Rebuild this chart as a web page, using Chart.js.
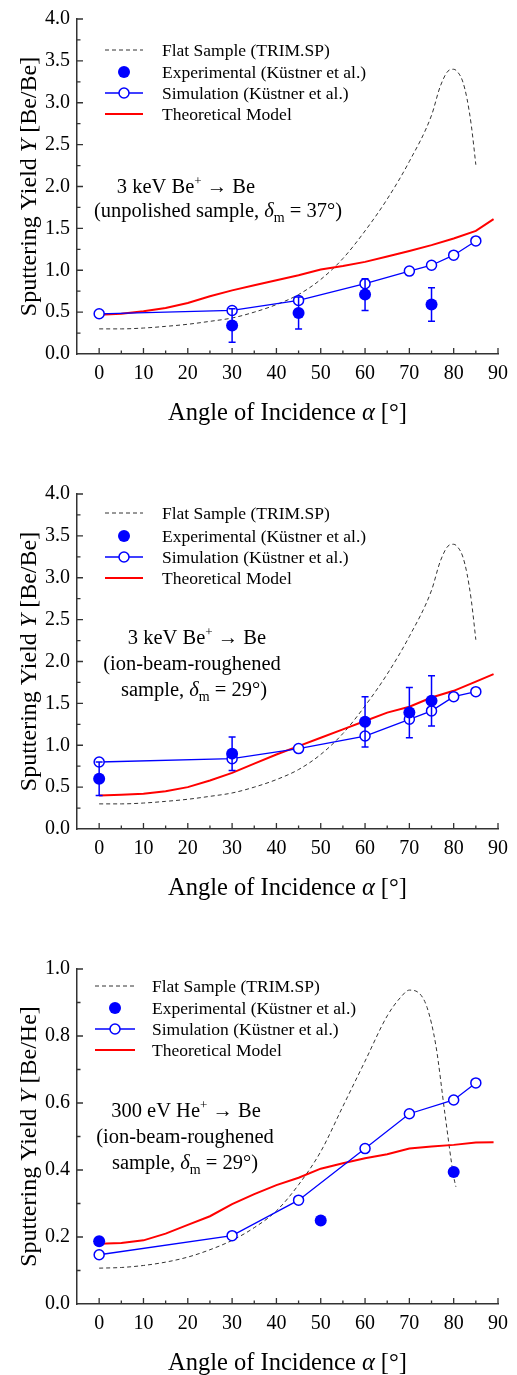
<!DOCTYPE html>
<html>
<head>
<meta charset="utf-8">
<script src="https://cdn.jsdelivr.net/npm/chart.js@4.4.1/dist/chart.umd.min.js"></script>
<style>
  body { margin: 0; background: #fff; width: 517px; height: 1375px; position: relative; overflow: hidden; }
  .panel { position: absolute; left: 0; width: 517px; height: 425px; }
</style>
</head>
<body>
<div class="panel" style="top:0px"><canvas id="chart1" width="517" height="425"></canvas></div>
<div class="panel" style="top:475px"><canvas id="chart2" width="517" height="425"></canvas></div>
<div class="panel" style="top:950px"><canvas id="chart3" width="517" height="425"></canvas></div>
<script>
// TRIM.SP flat sample, 3 keV Be -> Be (same curve in panels 1 and 2)
const flatAnglesBe = [0, 5, 10, 15, 20, 25, 30, 35, 40, 45, 50, 55, 60, 65, 70, 75, 77, 79, 80, 81, 82, 83, 84, 85];
const flatYieldBe = [0.30, 0.30, 0.31, 0.33, 0.355, 0.39, 0.43, 0.50, 0.59, 0.71, 0.89, 1.14, 1.47, 1.85, 2.30, 2.85, 3.20, 3.39, 3.40, 3.36, 3.26, 3.05, 2.72, 2.26];

const theoryAngles = [0, 5, 10, 15, 20, 25, 30, 35, 40, 45, 50, 55, 60, 65, 70, 75, 80, 85, 89];
const simAnglesBe = [0, 30, 45, 60, 70, 75, 80, 85];
const xTickValues = [0, 10, 20, 30, 40, 50, 60, 70, 80, 90];

// Panel 1: unpolished sample
const expAngles1 = [30, 45, 60, 75];
const expYield1 = [0.34, 0.49, 0.71, 0.59];
const expError1 = [0.20, 0.19, 0.19, 0.20];
const simYield1 = [0.48, 0.52, 0.64, 0.84, 0.99, 1.06, 1.18, 1.35];
const theoryYield1 = [0.47, 0.48, 0.51, 0.55, 0.61, 0.69, 0.76, 0.82, 0.88, 0.94, 1.01, 1.05, 1.10, 1.165, 1.23, 1.30, 1.38, 1.47, 1.61];

// Panel 2: ion-beam-roughened sample, Be+
const expAngles2 = [0, 30, 60, 70, 75];
const expYield2 = [0.60, 0.90, 1.28, 1.39, 1.53];
const expError2 = [0.20, 0.20, 0.30, 0.30, 0.30];
const simYield2 = [0.80, 0.84, 0.96, 1.11, 1.31, 1.41, 1.58, 1.64];
const theoryYield2 = [0.40, 0.41, 0.42, 0.45, 0.50, 0.58, 0.67, 0.78, 0.89, 0.99, 1.09, 1.19, 1.29, 1.39, 1.46, 1.57, 1.65, 1.76, 1.85];

// Panel 3: 300 eV He+
const flatAnglesHe = [0, 5, 10, 15, 20, 25, 30, 35, 40, 45, 50, 55, 60, 65, 68, 70, 72, 74, 76, 78, 80, 80.5];
const flatYieldHe = [0.107, 0.109, 0.115, 0.125, 0.14, 0.162, 0.19, 0.228, 0.278, 0.356, 0.455, 0.59, 0.725, 0.86, 0.915, 0.937, 0.93, 0.885, 0.77, 0.57, 0.38, 0.35];
const expAngles3 = [0, 50, 80];
const expYield3 = [0.187, 0.249, 0.394];
const simAngles3 = [0, 30, 45, 60, 70, 80, 85];
const simYield3 = [0.147, 0.204, 0.31, 0.464, 0.568, 0.609, 0.66];
const theoryYield3 = [0.18, 0.182, 0.19, 0.21, 0.236, 0.262, 0.298, 0.328, 0.355, 0.377, 0.404, 0.42, 0.435, 0.447, 0.464, 0.470, 0.475, 0.482, 0.483];

const legendLabels = ['Flat Sample (TRIM.SP)', 'Experimental (Küstner et al.)', 'Simulation (Küstner et al.)', 'Theoretical Model'];

const BLUE = '#0000ff';
const RED = '#ff0000';
const AXIS = '#333333';
const SERIF = '"Liberation Serif", "Times New Roman", serif';

function pts(xs, ys) {
  return xs.map((x, i) => ({ x: x, y: ys[i] }));
}

function fontOf(s, size) {
  return (s.it ? 'italic ' : '') + (s.size || size) + 'px ' + SERIF;
}

// draw text made of several pieces (italic, sub/superscript)
function drawRich(ctx, segs, x, y, align, size) {
  let w = 0;
  segs.forEach(s => { ctx.font = fontOf(s, size); w += ctx.measureText(s.t).width; });
  let cx = align === 'center' ? x - w / 2 : x;
  ctx.textAlign = 'left';
  ctx.textBaseline = 'alphabetic';
  segs.forEach(s => {
    ctx.font = fontOf(s, size);
    ctx.fillText(s.t, cx, y + (s.dy || 0));
    cx += ctx.measureText(s.t).width;
  });
}

const decorPlugin = {
  id: 'decor',
  afterDatasetsDraw(chart) {
    // error bars
    const ctx = chart.ctx;
    const yScale = chart.scales.y;
    chart.data.datasets.forEach((ds, i) => {
      if (!ds.errors) return;
      const meta = chart.getDatasetMeta(i);
      ctx.save();
      ctx.strokeStyle = BLUE;
      ctx.lineWidth = 1.5;
      meta.data.forEach((p, j) => {
        const e = ds.errors[j];
        const v = ds.data[j].y;
        const top = yScale.getPixelForValue(v + e);
        const bot = yScale.getPixelForValue(v - e);
        ctx.beginPath();
        ctx.moveTo(p.x, top); ctx.lineTo(p.x, bot);
        ctx.moveTo(p.x - 3.5, top); ctx.lineTo(p.x + 3.5, top);
        ctx.moveTo(p.x - 3.5, bot); ctx.lineTo(p.x + 3.5, bot);
        ctx.stroke();
      });
      ctx.restore();
    });
  },
  afterDraw(chart, args, o) {
    const { ctx, scales: { x, y } } = chart;
    ctx.save();
    // inward ticks
    ctx.strokeStyle = AXIS;
    ctx.lineWidth = 1.3;
    ctx.beginPath();
    for (let i = 0; i <= 18; i++) {
      const px = x.getPixelForValue(i * 5);
      const len = i % 2 === 0 ? 6 : 3.5;
      ctx.moveTo(px, y.bottom); ctx.lineTo(px, y.bottom - len);
    }
    const n = Math.round(o.yMax / (o.yStep / 2));
    for (let i = 1; i <= n; i++) {
      const py = y.getPixelForValue(i * o.yStep / 2);
      const len = i % 2 === 0 ? 6 : 3.5;
      ctx.moveTo(x.left, py); ctx.lineTo(x.left + len, py);
    }
    ctx.stroke();

    // axis titles
    ctx.fillStyle = '#000';
    drawRich(ctx, [{ t: 'Angle of Incidence ' }, { t: 'α', it: true }, { t: ' [°]' }],
      (x.left + x.right) / 2, y.bottom + 66, 'center', 24.5);
    ctx.save();
    ctx.translate(36, (y.top + y.bottom) / 2);
    ctx.rotate(-Math.PI / 2);
    drawRich(ctx, [{ t: 'Sputtering Yield ' }, { t: 'Y', it: true }, { t: ' [' + o.unit + ']' }], 0, 0, 'center', 24);
    ctx.restore();

    // legend
    const L = o.legend;
    ctx.lineWidth = 1;
    ctx.strokeStyle = AXIS;
    ctx.setLineDash([4, 3]);
    ctx.beginPath(); ctx.moveTo(L.x0, L.rows[0]); ctx.lineTo(L.x1, L.rows[0]); ctx.stroke();
    ctx.setLineDash([]);
    const mid = (L.x0 + L.x1) / 2;
    ctx.fillStyle = BLUE;
    ctx.beginPath(); ctx.arc(mid, L.rows[1], 6, 0, Math.PI * 2); ctx.fill();
    ctx.strokeStyle = BLUE; ctx.lineWidth = 1.3;
    ctx.beginPath(); ctx.moveTo(L.x0, L.rows[2]); ctx.lineTo(L.x1, L.rows[2]); ctx.stroke();
    ctx.fillStyle = '#fff'; ctx.lineWidth = 1.5;
    ctx.beginPath(); ctx.arc(mid, L.rows[2], 5, 0, Math.PI * 2); ctx.fill(); ctx.stroke();
    ctx.strokeStyle = RED; ctx.lineWidth = 2;
    ctx.beginPath(); ctx.moveTo(L.x0, L.rows[3]); ctx.lineTo(L.x1, L.rows[3]); ctx.stroke();
    ctx.fillStyle = '#000';
    legendLabels.forEach((t, i) => drawRich(ctx, [{ t: t }], L.tx, L.rows[i] + 6, 'left', 17.5));

    // annotation
    o.note.forEach(line => drawRich(ctx, line.segs, line.cx, line.y, 'center', 20.5));
    ctx.restore();
  }
};

function makeChart(id, p) {
  const datasets = [
    {
      label: legendLabels[2], data: pts(p.simX, p.simY), showLine: true,
      borderColor: BLUE, borderWidth: 1.3, pointRadius: 5, pointBorderWidth: 1.5,
      pointBackgroundColor: '#fff', pointBorderColor: BLUE, order: 1
    },
    {
      label: legendLabels[1], data: pts(p.expX, p.expY), showLine: false, errors: p.expErr,
      pointRadius: 6, pointBorderWidth: 0, pointBackgroundColor: BLUE, pointBorderColor: BLUE, order: 0
    },
    {
      label: legendLabels[3], data: pts(theoryAngles, p.theoY), showLine: true,
      borderColor: RED, borderWidth: 2, pointRadius: 0, order: 2
    },
    {
      label: legendLabels[0], data: pts(p.flatX, p.flatY), showLine: true,
      borderColor: AXIS, borderWidth: 1, borderDash: [4, 3], pointRadius: 0,
      cubicInterpolationMode: 'monotone', order: 3
    }
  ];
  return new Chart(document.getElementById(id), {
    type: 'scatter',
    data: { datasets: datasets },
    options: {
      responsive: false,
      animation: false,
      layout: { padding: { top: 16, right: 19, bottom: 0, left: 0 } },
      plugins: {
        legend: { display: false },
        tooltip: { enabled: false },
        decor: { unit: p.unit, yMax: p.yMax, yStep: p.yStep, legend: p.legend, note: p.note }
      },
      scales: {
        x: {
          type: 'linear', min: -5, max: 90,
          grid: { display: false, drawTicks: false },
          border: { color: AXIS, width: 1.5 },
          ticks: { stepSize: 10, padding: 8, color: '#000', font: { family: SERIF, size: 20 } },
          afterBuildTicks: s => { s.ticks = xTickValues.map(v => ({ value: v })); },
          afterFit: s => { s.height = 71; }
        },
        y: {
          type: 'linear', min: 0, max: p.yMax,
          grid: { display: false, drawTicks: false },
          border: { color: AXIS, width: 1.5 },
          ticks: { stepSize: p.yStep, padding: 7, color: '#000', font: { family: SERIF, size: 20 },
                   callback: v => v.toFixed(1) },
          afterFit: s => { s.width = 77; }
        }
      }
    },
    plugins: [decorPlugin]
  });
}

const sup = t => ({ t: t, size: 13, dy: -8 });
const sub = t => ({ t: t, size: 14, dy: 5 });

makeChart('chart1', {
  unit: 'Be/Be', yMax: 4, yStep: 0.5,
  simX: simAnglesBe, simY: simYield1, expX: expAngles1, expY: expYield1, expErr: expError1,
  theoY: theoryYield1, flatX: flatAnglesBe, flatY: flatYieldBe,
  legend: { x0: 105, x1: 143, tx: 162, rows: [50, 72, 93, 114] },
  note: [
    { cx: 186, y: 193, segs: [{ t: '3 keV Be' }, sup('+'), { t: ' → Be' }] },
    { cx: 218, y: 217, segs: [{ t: '(unpolished sample, ' }, { t: 'δ', it: true }, sub('m'), { t: ' = 37°)' }] }
  ]
});

makeChart('chart2', {
  unit: 'Be/Be', yMax: 4, yStep: 0.5,
  simX: simAnglesBe, simY: simYield2, expX: expAngles2, expY: expYield2, expErr: expError2,
  theoY: theoryYield2, flatX: flatAnglesBe, flatY: flatYieldBe,
  legend: { x0: 105, x1: 143, tx: 162, rows: [38, 61, 82, 103] },
  note: [
    { cx: 197, y: 169, segs: [{ t: '3 keV Be' }, sup('+'), { t: ' → Be' }] },
    { cx: 192, y: 195, segs: [{ t: '(ion-beam-roughened' }] },
    { cx: 194, y: 221, segs: [{ t: 'sample, ' }, { t: 'δ', it: true }, sub('m'), { t: ' = 29°)' }] }
  ]
});

makeChart('chart3', {
  unit: 'Be/He', yMax: 1, yStep: 0.2,
  simX: simAngles3, simY: simYield3, expX: expAngles3, expY: expYield3, expErr: null,
  theoY: theoryYield3, flatX: flatAnglesHe, flatY: flatYieldHe,
  legend: { x0: 95, x1: 135, tx: 152, rows: [36, 58, 79, 100] },
  note: [
    { cx: 186, y: 167, segs: [{ t: '300 eV He' }, sup('+'), { t: ' → Be' }] },
    { cx: 185, y: 193, segs: [{ t: '(ion-beam-roughened' }] },
    { cx: 185, y: 219, segs: [{ t: 'sample, ' }, { t: 'δ', it: true }, sub('m'), { t: ' = 29°)' }] }
  ]
});
</script>
</body>
</html>
